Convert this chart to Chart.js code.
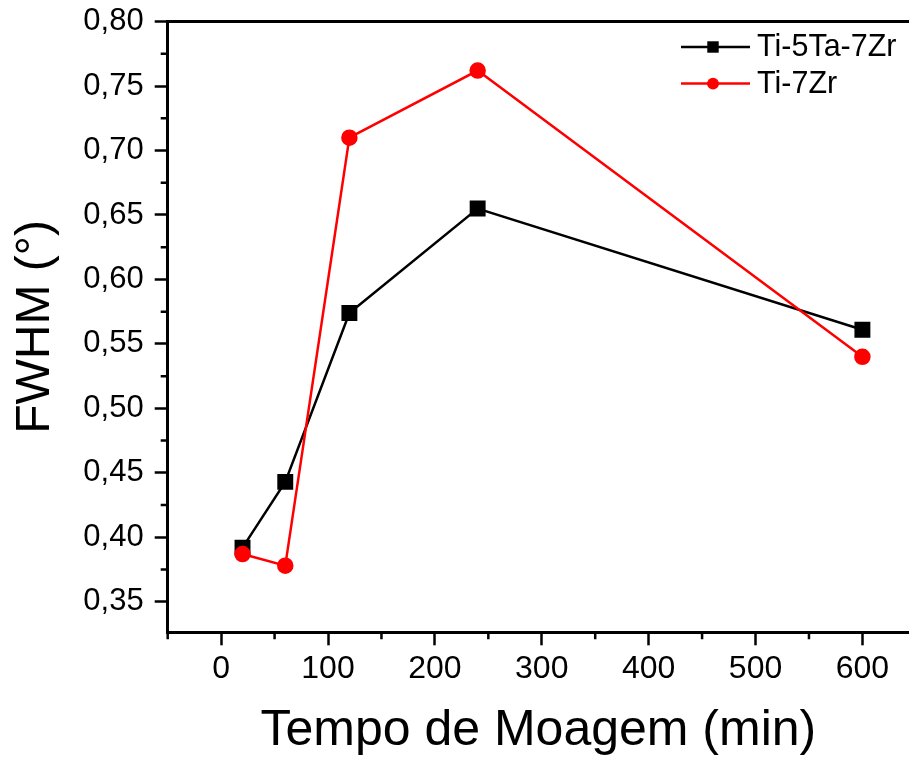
<!DOCTYPE html>
<html>
<head>
<meta charset="utf-8">
<script src="https://cdn.jsdelivr.net/npm/chart.js@4"></script>
<style>
  html, body { margin: 0; padding: 0; background: #fff; overflow: hidden; }
</style>
</head>
<body>
<canvas id="fwhmChart" width="909" height="758"></canvas>
<script>
const millingTime = [20, 60, 120, 240, 600];
const fwhmTiTaZr = [0.392, 0.443, 0.574, 0.655, 0.561];
const fwhmTiZr = [0.387, 0.378, 0.710, 0.762, 0.540];
const seriesNames = ["Ti-5Ta-7Zr", "Ti-7Zr"];
const xTicks = [0, 100, 200, 300, 400, 500, 600];
const yTicks = [0.35, 0.40, 0.45, 0.50, 0.55, 0.60, 0.65, 0.70, 0.75, 0.80];

const FONT = "'Liberation Sans', Arial, sans-serif";
const toPoints = ys => millingTime.map((t, i) => ({ x: t, y: ys[i] }));
const comma = v => v.toFixed(2).replace(".", ",");

// short minor ticks halfway between the major ones, Origin style
const minorTicks = {
  id: "minorTicks",
  afterDraw(chart) {
    const { ctx, chartArea, scales } = chart;
    ctx.save();
    ctx.strokeStyle = "#000";
    ctx.lineWidth = 2.5;
    ctx.beginPath();
    const dx = xTicks[1] - xTicks[0];
    for (let v = xTicks[0] - dx / 2; v <= scales.x.max + 1e-9; v += dx) {
      if (v < scales.x.min - 1e-9) continue;
      const px = scales.x.getPixelForValue(v);
      ctx.moveTo(px, chartArea.bottom);
      ctx.lineTo(px, chartArea.bottom + 7);
    }
    const dy = yTicks[1] - yTicks[0];
    for (let v = yTicks[0] - dy / 2; v <= scales.y.max + 1e-9; v += dy) {
      if (v < scales.y.min - 1e-9) continue;
      const py = scales.y.getPixelForValue(v);
      ctx.moveTo(chartArea.left, py);
      ctx.lineTo(chartArea.left - 7, py);
    }
    ctx.stroke();
    ctx.restore();
  }
};

// line + symbol legend in the upper right corner
const lineLegend = {
  id: "lineLegend",
  afterDraw(chart) {
    const { ctx } = chart;
    chart.data.datasets.forEach((ds, i) => {
      const y = 47 + i * 36.6;
      ctx.save();
      ctx.strokeStyle = ds.borderColor;
      ctx.lineWidth = 2.5;
      ctx.beginPath();
      ctx.moveTo(681, y);
      ctx.lineTo(750, y);
      ctx.stroke();
      ctx.fillStyle = ds.borderColor;
      Chart.helpers.drawPoint(ctx, { pointStyle: ds.pointStyle, radius: ds.pointRadius * 0.85, borderWidth: 0, rotation: 0 }, 713, y);
      ctx.fillStyle = "#000";
      ctx.font = "30.5px " + FONT;
      ctx.textBaseline = "middle";
      ctx.textAlign = "left";
      ctx.fillText(ds.label, 757, y + 1);
      ctx.restore();
    });
  }
};

new Chart(document.getElementById("fwhmChart"), {
  type: "line",
  data: {
    datasets: [{
      label: seriesNames[0],
      data: toPoints(fwhmTiTaZr),
      borderColor: "#000000",
      backgroundColor: "#000000",
      pointBackgroundColor: "#000000",
      pointStyle: "rect",
      pointRadius: 9.5,
      borderWidth: 2.5,
      order: 1
    }, {
      label: seriesNames[1],
      data: toPoints(fwhmTiZr),
      borderColor: "#ff0000",
      backgroundColor: "#ff0000",
      pointBackgroundColor: "#ff0000",
      pointStyle: "circle",
      pointRadius: 7,
      borderWidth: 2.5,
      order: 0
    }]
  },
  options: {
    responsive: false,
    animation: false,
    events: [],
    layout: { padding: 0, autoPadding: false },
    plugins: {
      legend: { display: false },
      tooltip: { enabled: false }
    },
    scales: {
      x: {
        type: "linear",
        position: "bottom",
        min: -50,
        max: 643.6,
        afterBuildTicks: s => { s.ticks = xTicks.map(v => ({ value: v })); },
        afterFit: s => { s.height = 758 - 632.3; s.paddingLeft = 0; s.paddingRight = 0; },
        grid: { drawOnChartArea: false, tickLength: 13, tickWidth: 2.5, tickColor: "#000" },
        border: { color: "#000", width: 3 },
        ticks: { color: "#000", font: { family: FONT, size: 32 }, padding: 5, maxRotation: 0 },
        title: {
          display: true,
          text: "Tempo de Moagem (min)",
          color: "#000",
          font: { family: FONT, size: 50, lineHeight: 1 },
          padding: { top: 0, bottom: 2 }
        }
      },
      y: {
        type: "linear",
        position: "left",
        min: 0.3263,
        max: 0.80,
        afterBuildTicks: s => { s.ticks = yTicks.map(v => ({ value: v })); },
        afterFit: s => { s.width = 167.7; s.paddingTop = 0; s.paddingBottom = 0; },
        grid: { drawOnChartArea: false, tickLength: 13, tickWidth: 2.5, tickColor: "#000" },
        border: { color: "#000", width: 3 },
        ticks: { color: "#000", font: { family: FONT, size: 31 }, padding: 11, callback: v => comma(v) },
        title: {
          display: true,
          text: "FWHM (°)",
          color: "#000",
          font: { family: FONT, size: 48, lineHeight: 1 },
          padding: { top: 12, bottom: 0 }
        }
      },
      xTop: {
        type: "linear",
        position: "top",
        min: -50,
        max: 643.6,
        afterFit: s => { s.height = 21.6; s.paddingLeft = 0; s.paddingRight = 0; },
        grid: { drawOnChartArea: false, drawTicks: false },
        border: { color: "#000", width: 3 },
        ticks: { display: false }
      }
    }
  },
  plugins: [minorTicks, lineLegend]
});
</script>
</body>
</html>
